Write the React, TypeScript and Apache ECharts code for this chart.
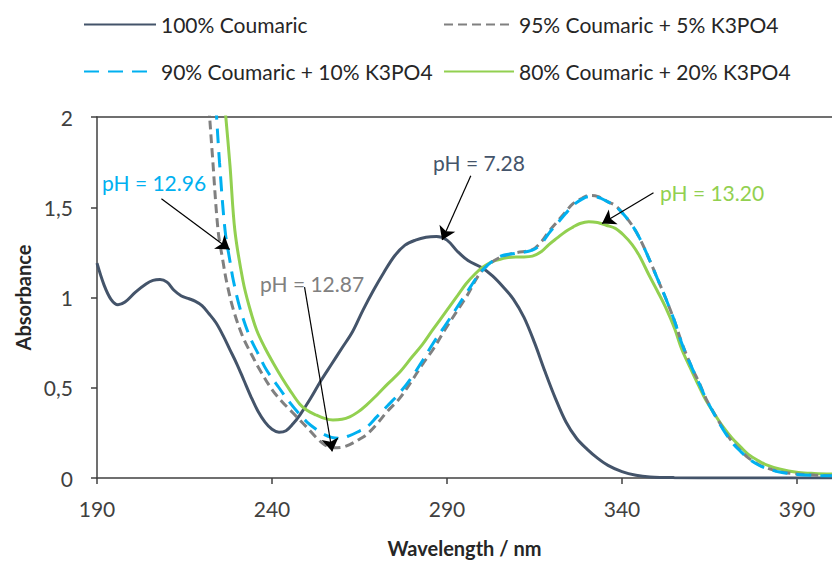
import React, { useEffect, useRef } from "react";
import * as echarts from "echarts";

const FONT = "Lato, Carlito, Calibri, 'Noto Sans', sans-serif";

const seriesNames = [
  "100% Coumaric",
  "95% Coumaric + 5% K3PO4",
  "90% Coumaric + 10% K3PO4",
  "80% Coumaric + 20% K3PO4",
];

const xTicks = [190, 240, 290, 340, 390];
const yTicks = [0, 0.5, 1, 1.5, 2];

// [wavelength nm, absorbance]
const coumaric100: [number, number][] = [
  [190, 1.19], [192, 1.07], [194, 0.99], [196, 0.96], [198, 0.975], [201, 1.03],
  [204, 1.075], [206, 1.095], [208, 1.1], [210, 1.085], [212, 1.04], [214, 1.01],
  [216, 0.995], [218, 0.98], [220, 0.955], [222, 0.91], [224, 0.86], [226, 0.79],
  [228, 0.71], [230, 0.63], [232, 0.54], [234, 0.45], [236, 0.37], [238, 0.31],
  [240, 0.27], [242, 0.254], [244, 0.262], [246, 0.3], [248, 0.35], [251, 0.44],
  [254, 0.54], [257, 0.63], [260, 0.72], [263, 0.81], [266, 0.93], [269, 1.04],
  [272, 1.14], [275, 1.23], [278, 1.29], [281, 1.318], [284, 1.334], [287, 1.338],
  [290, 1.318], [293, 1.255], [296, 1.205], [300, 1.165], [303, 1.12], [306, 1.06],
  [309, 0.99], [312, 0.89], [315, 0.75], [318, 0.59], [321, 0.44], [324, 0.31],
  [327, 0.22], [330, 0.16], [333, 0.11], [336, 0.07], [340, 0.035], [344, 0.015],
  [348, 0.006], [355, 0.002], [370, 0], [400, 0],
];

const coumaric95: [number, number][] = [
  [220, 2.6], [222, 2.05], [223, 1.78], [224.6, 1.37], [226, 1.2], [227, 1.09],
  [229, 0.93], [231.7, 0.78], [234, 0.69], [236.5, 0.6], [240, 0.49], [243, 0.42],
  [245, 0.38], [247, 0.34], [250, 0.28], [252.6, 0.225], [255, 0.185], [257.4, 0.167],
  [260, 0.17], [262.2, 0.185], [265, 0.215], [267, 0.24], [270, 0.3], [273, 0.37],
  [276.4, 0.44], [280, 0.54], [283, 0.63], [286, 0.712], [290, 0.84], [295.4, 1.0],
  [300, 1.148], [304.9, 1.22], [309.6, 1.247], [314.4, 1.265], [317, 1.31],
  [319.1, 1.366], [321.5, 1.42], [323.9, 1.474], [326, 1.52], [328.6, 1.55],
  [330.5, 1.565], [333, 1.56], [336, 1.53], [338.1, 1.51], [340.5, 1.46],
  [342.9, 1.4], [345, 1.33], [347.6, 1.22], [350, 1.11], [352.4, 1.0], [355, 0.87],
  [357.1, 0.748], [360, 0.61], [362, 0.53], [364, 0.44], [366.6, 0.349], [369, 0.27],
  [371.4, 0.203], [374, 0.15], [376, 0.113], [379, 0.075], [381, 0.058], [385, 0.035],
  [390, 0.022], [395, 0.016], [400, 0.013],
];

const coumaric90: [number, number][] = [
  [222, 2.6], [224, 2.05], [225, 1.75], [226.6, 1.37], [228, 1.2], [229, 1.09],
  [231, 0.93], [233.7, 0.78], [236, 0.69], [238.4, 0.6], [242, 0.5], [245, 0.42],
  [248, 0.35], [250, 0.31], [252.6, 0.27], [255, 0.24], [257, 0.225], [259.3, 0.22],
  [262.2, 0.235], [265, 0.26], [267, 0.28], [270, 0.34], [273, 0.4], [276.4, 0.47],
  [280, 0.56], [283, 0.65], [286, 0.745], [290, 0.86], [295.4, 1.02], [300, 1.148],
  [304.9, 1.225], [309.6, 1.245], [314.4, 1.262], [317, 1.3], [319.1, 1.355],
  [321.5, 1.41], [323.9, 1.465], [326, 1.51], [328.6, 1.545], [330.5, 1.558],
  [333, 1.555], [336, 1.53], [338.1, 1.505], [340.5, 1.46], [342.9, 1.4], [345, 1.33],
  [347.6, 1.22], [350, 1.11], [352.4, 1.0], [355, 0.87], [357.1, 0.745], [360, 0.61],
  [362, 0.525], [364, 0.44], [366.6, 0.345], [369, 0.265], [371.4, 0.198], [374, 0.145],
  [376, 0.11], [379, 0.072], [381, 0.055], [385, 0.033], [390, 0.02], [395, 0.014],
  [400, 0.012],
];

const coumaric80: [number, number][] = [
  [224, 2.6], [226.8, 2.0], [228, 1.73], [229.4, 1.37], [231.7, 1.093], [233.5, 0.95],
  [235.6, 0.82], [238, 0.72], [240.3, 0.639], [243, 0.55], [245, 0.49], [247.9, 0.41],
  [250, 0.375], [252.6, 0.349], [255, 0.33], [257.4, 0.321], [260, 0.325], [262.2, 0.339],
  [264.5, 0.365], [266.9, 0.403], [270, 0.46], [273, 0.52], [276.4, 0.584], [280, 0.67],
  [283, 0.74], [285.9, 0.82], [290, 0.93], [293, 1.01], [295.4, 1.075], [298, 1.13],
  [300.1, 1.166], [302.5, 1.195], [304.9, 1.21], [307, 1.22], [309.6, 1.225],
  [312, 1.225], [314.4, 1.229], [317, 1.255], [319.1, 1.293], [321.5, 1.33],
  [323.9, 1.366], [326, 1.39], [328, 1.41], [330.5, 1.42], [333, 1.415], [335.5, 1.4],
  [338.1, 1.383], [340.5, 1.345], [342.9, 1.293], [345, 1.23], [347.6, 1.129],
  [350, 1.04], [352.4, 0.948], [355, 0.83], [357.1, 0.712], [360, 0.59], [361.9, 0.512],
  [364, 0.43], [366.6, 0.349], [369, 0.28], [371.4, 0.222], [374, 0.17], [376.1, 0.131],
  [379, 0.095], [380.9, 0.076], [385, 0.05], [390.4, 0.031], [395, 0.025], [400, 0.022],
];

const colors = ["#44546A", "#808080", "#00B0F0", "#92D050"];
const dashes: any[] = ["solid", [9, 5], [15, 9], "solid"];

// annotations: label, colour, arrow start & tip in data coordinates
const annotLabels = ["pH = 12.96", "pH = 12.87", "pH = 7.28", "pH = 13.20"];
const annotColors = ["#00B0F0", "#808080", "#44546A", "#92D050"];
const arrowStarts: [number, number][] = [[208.4, 1.547], [249.3, 1.057], [296.8, 1.675], [349.0, 1.58]];
const arrowTips: [number, number][] = [[227.9, 1.266], [257.2, 0.147], [288.6, 1.318], [334.3, 1.41]];
const labelPos: [number, number][] = [[102, 182], [260, 283], [433, 162], [660, 192]];

export default function App() {
  const ref = useRef<HTMLDivElement>(null);
  useEffect(() => {
    if (!ref.current) return;
    const chart = echarts.init(ref.current, undefined, { renderer: "svg" });
    const datasets = [coumaric100, coumaric95, coumaric90, coumaric80];
    const axisColor = "#404040";
    const legendPos = [
      { left: 83, top: 14, w: 72 },
      { left: 443, top: 14, w: 70 },
      { left: 83, top: 61, w: 72 },
      { left: 443, top: 61, w: 70 },
    ];
    chart.setOption({
      animation: false,
      backgroundColor: "#ffffff",
      textStyle: { fontFamily: FONT },
      legend: seriesNames.map((n, i) => ({
        data: [n],
        left: legendPos[i].left,
        top: legendPos[i].top,
        padding: 0,
        itemWidth: legendPos[i].w,
        itemHeight: 20,
        selectedMode: false,
        itemStyle: { opacity: 0 },
        textStyle: { fontFamily: FONT, fontSize: 21, color: "#262626" },
      })),
      grid: { left: 97, right: 0, top: 117, bottom: 79, containLabel: false },
      xAxis: [
        {
          type: "value",
          min: 190,
          max: 400,
          name: "Wavelength / nm",
          nameLocation: "middle",
          nameGap: 60,
          nameTextStyle: { fontFamily: FONT, fontSize: 20, fontWeight: "bold", color: "#262626" },
          axisLine: { show: true, onZero: false, lineStyle: { color: axisColor, width: 1.5 } },
          axisTick: { show: true, inside: false, length: 6, customValues: xTicks, lineStyle: { color: axisColor, width: 1.5 } },
          axisLabel: { customValues: xTicks, margin: 20, fontFamily: FONT, fontSize: 21, color: "#404040" },
          splitLine: { show: false },
        },
        {
          type: "value",
          position: "top",
          min: 190,
          max: 400,
          axisLine: { show: true, onZero: false, lineStyle: { color: axisColor, width: 1.5 } },
          axisTick: { show: false },
          axisLabel: { show: false },
          splitLine: { show: false },
        },
      ],
      yAxis: {
        type: "value",
        min: 0,
        max: 2,
        interval: 0.5,
        name: "Absorbance",
        nameLocation: "middle",
        nameGap: 64,
        nameTextStyle: { fontFamily: FONT, fontSize: 20, fontWeight: "bold", color: "#262626" },
        axisLine: { show: true, lineStyle: { color: axisColor, width: 1.5 } },
        axisTick: { show: true, inside: false, length: 6, lineStyle: { color: axisColor, width: 1.5 } },
        axisLabel: {
          margin: 24,
          fontFamily: FONT,
          fontSize: 21,
          color: "#404040",
          formatter: (v: number) => (yTicks.includes(v) ? String(v).replace(".", ",") : ""),
        },
        splitLine: { show: false },
      },
      series: seriesNames.map((n, i) => ({
        name: n,
        type: "line",
        xAxisIndex: 0,
        data: datasets[i],
        showSymbol: false,
        symbol: "none",
        smooth: 0.35,
        clip: true,
        color: colors[i],
        lineStyle: { color: colors[i], width: 3, type: dashes[i] },
        z: i === 1 ? 3 : i === 2 ? 4 : 2,
        markLine:
          i === 0
            ? {
                silent: true,
                symbol: ["none", "arrow"],
                symbolSize: 13,
                label: { show: false },
                lineStyle: { color: "#000000", width: 1.2, type: "solid" },
                data: arrowStarts.map((s, k) => [{ coord: s }, { coord: arrowTips[k] }]),
              }
            : undefined,
      })),
      graphic: annotLabels.map((t, k) => ({
        type: "text",
        x: labelPos[k][0],
        y: labelPos[k][1],
        z: 100,
        style: {
          text: t,
          fill: annotColors[k],
          font: `21px ${FONT}`,
          align: "left",
          verticalAlign: "middle",
        },
      })),
    });
    return () => chart.dispose();
  }, []);
  return (
    <div
      ref={ref}
      style={{ position: "absolute", left: 0, top: 0, width: 832, height: 563, background: "#fff" }}
    />
  );
}
